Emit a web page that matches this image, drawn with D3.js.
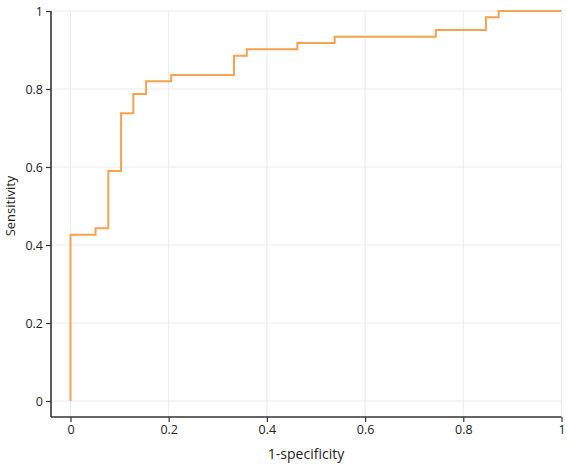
<!DOCTYPE html>
<html>
<head>
<meta charset="utf-8">
<script src="https://cdn.jsdelivr.net/npm/d3@7"></script>
<style>
  body { margin: 0; background: #fff; }
  text { font-family: "Open Sans", "Noto Sans", sans-serif; fill: #222; }
</style>
</head>
<body>
<script>
// ROC step points
const fpr = [0, 0, 0.051, 0.051, 0.077, 0.077, 0.103, 0.103, 0.128, 0.128, 0.154, 0.154,
  0.205, 0.205, 0.333, 0.333, 0.359, 0.359, 0.462, 0.462, 0.538, 0.538,
  0.744, 0.744, 0.846, 0.846, 0.872, 0.872, 1];
const tpr = [0, 0.426, 0.426, 0.443, 0.443, 0.590, 0.590, 0.738, 0.738, 0.787, 0.787, 0.820,
  0.820, 0.836, 0.836, 0.885, 0.885, 0.902, 0.902, 0.918, 0.918, 0.934,
  0.934, 0.951, 0.951, 0.984, 0.984, 1, 1];
const ticks = [0, 0.2, 0.4, 0.6, 0.8, 1];

const W = 567, H = 469;
const svg = d3.select("body").append("svg").attr("width", W).attr("height", H);

const plotL = 51, plotR = 561.5, plotT = 11, plotB = 417;
const x = d3.scaleLinear().domain([0, 1]).range([70.5, 561.5]);
const y = d3.scaleLinear().domain([0, 1]).range([401, 11]);

// grid
const grid = svg.append("g").attr("stroke", "#e6eaf2").attr("stroke-width", 1);
ticks.forEach(t => {
  grid.append("line").attr("x1", x(t)).attr("x2", x(t)).attr("y1", plotT).attr("y2", plotB);
  grid.append("line").attr("x1", plotL).attr("x2", plotR).attr("y1", y(t)).attr("y2", y(t));
});

// curve
const pts = fpr.map((f, i) => [f, tpr[i]]);
svg.append("path")
  .datum(pts)
  .attr("fill", "none")
  .attr("stroke", "#f8a14e")
  .attr("stroke-width", 2)
  .attr("d", d3.line().x(d => x(d[0])).y(d => y(d[1])));

// axes
const xAxis = d3.axisBottom(x).tickValues(ticks).tickFormat(d3.format("")).tickSize(5).tickSizeOuter(0);
const gx = svg.append("g").attr("transform", `translate(0,${plotB})`).call(xAxis);
gx.select(".domain").attr("d", `M${plotL},0H${plotR}`);

const yAxis = d3.axisLeft(y).tickValues(ticks).tickFormat(d3.format("")).tickSize(5).tickSizeOuter(0);
const gy = svg.append("g").attr("transform", `translate(${plotL},0)`).call(yAxis);
gy.select(".domain").attr("d", `M0,${plotT}V${plotB}`);

[gx, gy].forEach(g => {
  g.select(".domain").attr("stroke", "#333").attr("stroke-width", 1.6);
  g.selectAll(".tick line").attr("stroke", "#333").attr("stroke-width", 1.2);
  g.selectAll(".tick text").attr("font-size", 12.5).attr("fill", "#222")
    .style("font-family", "'Open Sans', 'Noto Sans', sans-serif");
});

svg.append("text").attr("x", 306).attr("y", 459).attr("text-anchor", "middle")
  .attr("font-size", 14).text("1-specificity");
svg.append("text").attr("transform", "translate(15,206) rotate(-90)").attr("text-anchor", "middle")
  .attr("font-size", 13).text("Sensitivity");
</script>
</body>
</html>
